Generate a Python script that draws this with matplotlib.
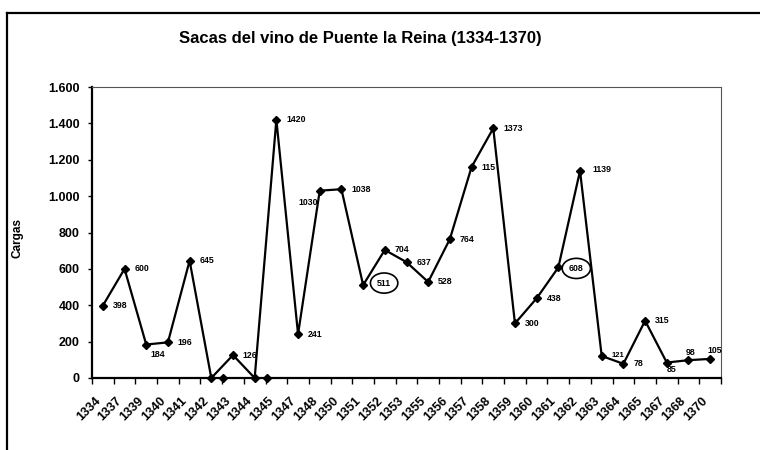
import matplotlib.pyplot as plt
from matplotlib.lines import Line2D
from matplotlib.ticker import FuncFormatter

plt.rcParams['font.family'] = ['Liberation Sans', 'DejaVu Sans']

title = "Sacas del vino de Puente la Reina (1334-1370)"
y_label = "Cargas"

years = ["1334", "1337", "1339", "1340", "1341", "1342", "1343", "1344", "1345", "1347",
         "1348", "1350", "1351", "1352", "1353", "1355", "1356", "1357", "1358", "1359",
         "1360", "1361", "1362", "1363", "1364", "1365", "1367", "1368", "1370"]
cargas = [398, 600, 184, 196, 645, 0, 126, 0, 1420, 241,
          1030, 1038, 511, 704, 637, 528, 764, 1160, 1373, 300,
          438, 608, 1139, 121, 78, 315, 85, 98, 105]
# labels as printed on the original (some are truncated there)
labels = ["398", "600", "184", "196", "645", "", "126", "", "1420", "241",
          "1030", "1038", "511", "704", "637", "528", "764", "115", "1373", "300",
          "438", "608", "1139", "121", "78", "315", "85", "98", "105"]
circled = ["511", "608"]

# two loose zero points sitting between categories
extra_x = [5.55, 7.55]
extra_y = [0, 0]

y_ticks = [0, 200, 400, 600, 800, 1000, 1200, 1400, 1600]

# label offsets in pixels (dx, dy, ha)
offsets = {
    "184": (4, -10, 'left'),
    "1030": (-2, -12, 'right'),
    "511": (21, 2, 'center'),
    "608": (18, -1, 'center'),
    "1139": (12, 1, 'left'),
    "85": (0, -7, 'left'),
    "98": (-3, 8, 'left'),
    "105": (-3, 8, 'left'),
}


def thousands(v, pos):
    return "{:,.0f}".format(v).replace(",", ".")


fig = plt.figure(figsize=(7.6, 4.5), dpi=100)
ax = fig.add_axes([92 / 760, 72 / 450, 629 / 760, 291 / 450])

x = list(range(len(years)))
ax.plot(x, cargas, color='black', linewidth=1.6, marker='D', markersize=4.2, zorder=3, clip_on=False)
ax.plot(extra_x, extra_y, linestyle='none', color='black', marker='D', markersize=4.2, zorder=3,
        clip_on=False)

for i, lab in enumerate(labels):
    if lab == "":
        continue
    dx, dy, ha = offsets.get(lab, (10, 0, 'left'))
    size = 5.5 if lab == "121" else 6.3
    kw = dict()
    if lab in circled:
        kw['bbox'] = dict(boxstyle='ellipse,pad=0.3', fc='none', ec='black', lw=1.2)
    ax.annotate(lab, (i, cargas[i]), xytext=(dx, dy), textcoords='offset pixels',
                ha=ha, va='center', fontsize=size, fontweight='bold', **kw)

ax.set_xlim(-0.5, len(years) - 0.5)
ax.set_ylim(0, 1600)
ax.set_yticks(y_ticks)
ax.yaxis.set_major_formatter(FuncFormatter(thousands))
ax.set_xticks(x)
ax.set_xticklabels(years, rotation=45, ha='right', va='top')
ax.set_xticks([i - 0.5 for i in range(len(years) + 1)], minor=True)
ax.tick_params(axis='x', which='major', length=0, pad=12, labelsize=9)
ax.tick_params(axis='x', which='minor', length=4, width=1, direction='out')
ax.tick_params(axis='y', length=3, width=1, pad=6, labelsize=9)
for t in ax.get_xticklabels() + ax.get_yticklabels():
    t.set_fontweight('bold')

ax.spines['left'].set_linewidth(1.6)
ax.spines['bottom'].set_linewidth(1.6)
ax.spines['top'].set_linewidth(0.8)
ax.spines['right'].set_linewidth(0.8)
ax.spines['top'].set_color('#555555')
ax.spines['right'].set_color('#555555')

fig.text(360 / 760, 1 - 39 / 450, title, ha='center', va='center',
         fontsize=12, fontweight='bold')
fig.text(18 / 760, 1 - 238 / 450, y_label, rotation=90, ha='center', va='center',
         fontsize=8.5, fontweight='bold')

# outer frame of the chart (left and top edges visible)
fig.add_artist(Line2D([7 / 760, 7 / 760], [0, 1 - 13 / 450], color='black', linewidth=1.6))
fig.add_artist(Line2D([7 / 760, 1], [1 - 13 / 450, 1 - 13 / 450], color='black', linewidth=1.6))

fig.savefig("out.png", dpi=100)
